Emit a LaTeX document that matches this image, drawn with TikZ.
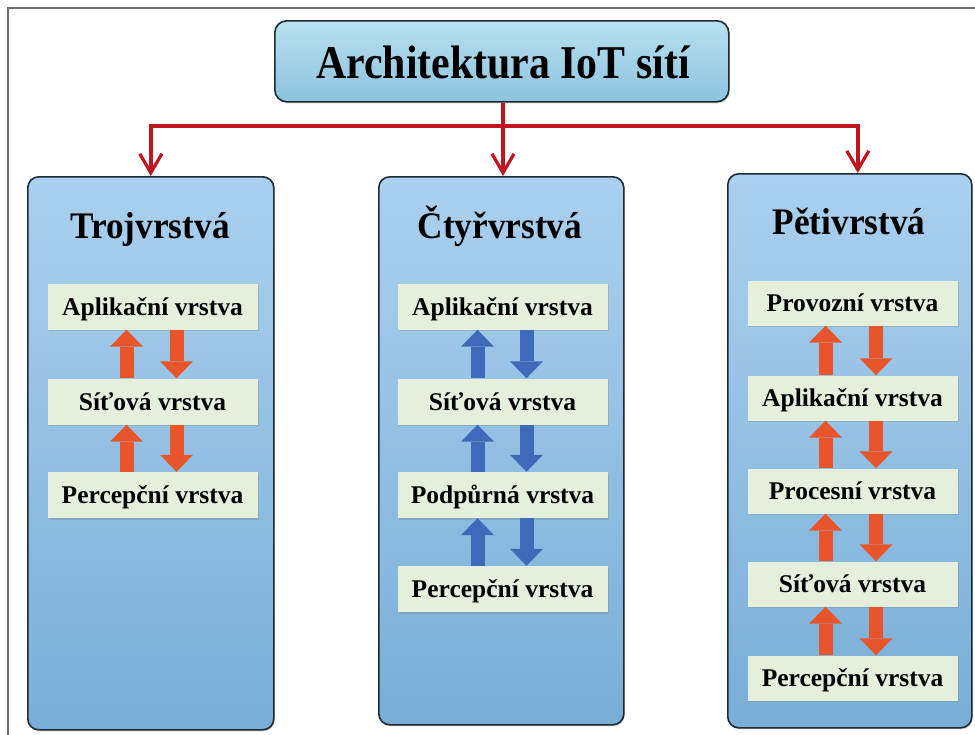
\documentclass[tikz,border=0pt]{standalone}
\usepackage{fontspec}
\usepackage{graphicx}
\setmainfont{Liberation Serif}
\usetikzlibrary{arrows.meta,shadows,calc}
\definecolor{frameg}{HTML}{6E6E6E}
\definecolor{bord}{HTML}{1E2A34}
\definecolor{titletop}{HTML}{B9E0F1}
\definecolor{titlebot}{HTML}{8CC3DD}
\definecolor{coltop}{HTML}{ABD0EF}
\definecolor{colbot}{HTML}{79AED7}
\definecolor{layfill}{HTML}{E4EFDC}
\definecolor{redc}{HTML}{C0141E}
\definecolor{orc}{HTML}{E8552A}
\definecolor{blc}{HTML}{3F69B9}
\newcommand{\condtxt}[2]{\scalebox{#1}[1]{#2}}
\begin{document}
\begin{tikzpicture}[x=1pt,y=-1pt,
  titlebox/.style={draw=bord, line width=1.6pt, rounded corners=12pt,
    top color=titletop, bottom color=titlebot, inner sep=0pt,
    minimum width=454pt, minimum height=81pt, anchor=north west,
    drop shadow={shadow xshift=1pt, shadow yshift=-1.5pt, opacity=0.35}},
  colbox/.style={draw=bord, line width=1.6pt, rounded corners=11pt,
    top color=coltop, bottom color=colbot, inner sep=0pt, anchor=north west,
    drop shadow={shadow xshift=1pt, shadow yshift=-1.5pt, opacity=0.35}},
  lay/.style={fill=layfill, inner sep=0pt, minimum width=210pt, minimum height=46pt,
    font=\fontsize{25.5}{28}\selectfont\bfseries, text height=17pt, text depth=0pt,
    drop shadow={shadow xshift=1.2pt, shadow yshift=-1.5pt, opacity=0.3}},
  head/.style={font=\fontsize{37.5}{42}\selectfont\bfseries, inner sep=0pt, anchor=base},
  redline/.style={draw=redc, line width=3.6pt},
  redarr/.style={redline, -{Straight Barb[length=19pt,width=22pt,line width=3.2pt]}},
  orarr/.style={draw=orc, line width=14pt, -{Triangle[width=33pt,length=17pt,line width=0pt]}},
  blarr/.style={draw=blc, line width=14pt, -{Triangle[width=33pt,length=17pt,line width=0pt]}}
]
\useasboundingbox (0,0) rectangle (975,734);
\fill[white] (0,0) rectangle (975,734);
% outer frame
\draw[frameg, line width=1.2pt] (8,745) -- (8,8) -- (985,8);

% title
\node[titlebox] (T) at (274,20) {};
\node[font=\fontsize{47}{52}\selectfont\bfseries, inner sep=0pt, anchor=base] (Tt) at (503,78) {\condtxt{0.89}{Architektura IoT sítí}};

% columns
\node[colbox, minimum width=246pt, minimum height=553pt] (C1) at (27,176) {};
\node[colbox, minimum width=245pt, minimum height=548pt] (C2) at (378,176) {};
\node[colbox, minimum width=244pt, minimum height=554pt] (C3) at (727,173) {};

% red connectors
\coordinate (J) at (503,126);
\draw[redline] (T.south -| J) -- (J);
\draw[redarr] (J) -| (C1.north);
\draw[redarr] (J) -- (C2.north -| J);
\draw[redarr] (J) -| ([xshift=8pt]C3.north);

% headers
\node[head] (H1) at (150,238) {\condtxt{0.94}{Trojvrstvá}};
\node[head] (H2) at (500,238) {\condtxt{0.94}{Čtyřvrstvá}};
\node[head] (H3) at (849,234) {\condtxt{0.94}{Pětivrstvá}};

% left column
\node[lay] (L1) at (152.5,306.5) {Aplikační vrstva};
\node[lay] (L2) at (152.5,401.5) {Síťová vrstva};
\node[lay] (L3) at (152.5,495) {Percepční vrstva};
\foreach \a/\b in {L1/L2, L2/L3}{
  \draw[orarr] ([xshift=-26pt]\b.north) -- ([xshift=-26pt]\a.south);
  \draw[orarr] ([xshift=24pt]\a.south) -- ([xshift=24pt]\b.north);
}

% middle column
\node[lay] (M1) at (502.5,306.5) {Aplikační vrstva};
\node[lay] (M2) at (502.5,401.5) {Síťová vrstva};
\node[lay] (M3) at (502.5,495) {Podpůrná vrstva};
\node[lay] (M4) at (502.5,589) {Percepční vrstva};
\foreach \a/\b in {M1/M2, M2/M3, M3/M4}{
  \draw[blarr] ([xshift=-25pt]\b.north) -- ([xshift=-25pt]\a.south);
  \draw[blarr] ([xshift=24pt]\a.south) -- ([xshift=24pt]\b.north);
}

% right column
\node[lay, minimum height=45pt] (R1) at (852.5,303) {Provozní vrstva};
\node[lay, minimum height=45pt] (R2) at (852.5,398) {Aplikační vrstva};
\node[lay, minimum height=45pt] (R3) at (852.5,491) {Procesní vrstva};
\node[lay, minimum height=45pt] (R4) at (852.5,584) {Síťová vrstva};
\node[lay, minimum height=45pt] (R5) at (852.5,678) {Percepční vrstva};
\foreach \a/\b in {R1/R2, R2/R3, R3/R4, R4/R5}{
  \draw[orarr] ([xshift=-27pt]\b.north) -- ([xshift=-27pt]\a.south);
  \draw[orarr] ([xshift=23.5pt]\a.south) -- ([xshift=23.5pt]\b.north);
}
\end{tikzpicture}
\end{document}
